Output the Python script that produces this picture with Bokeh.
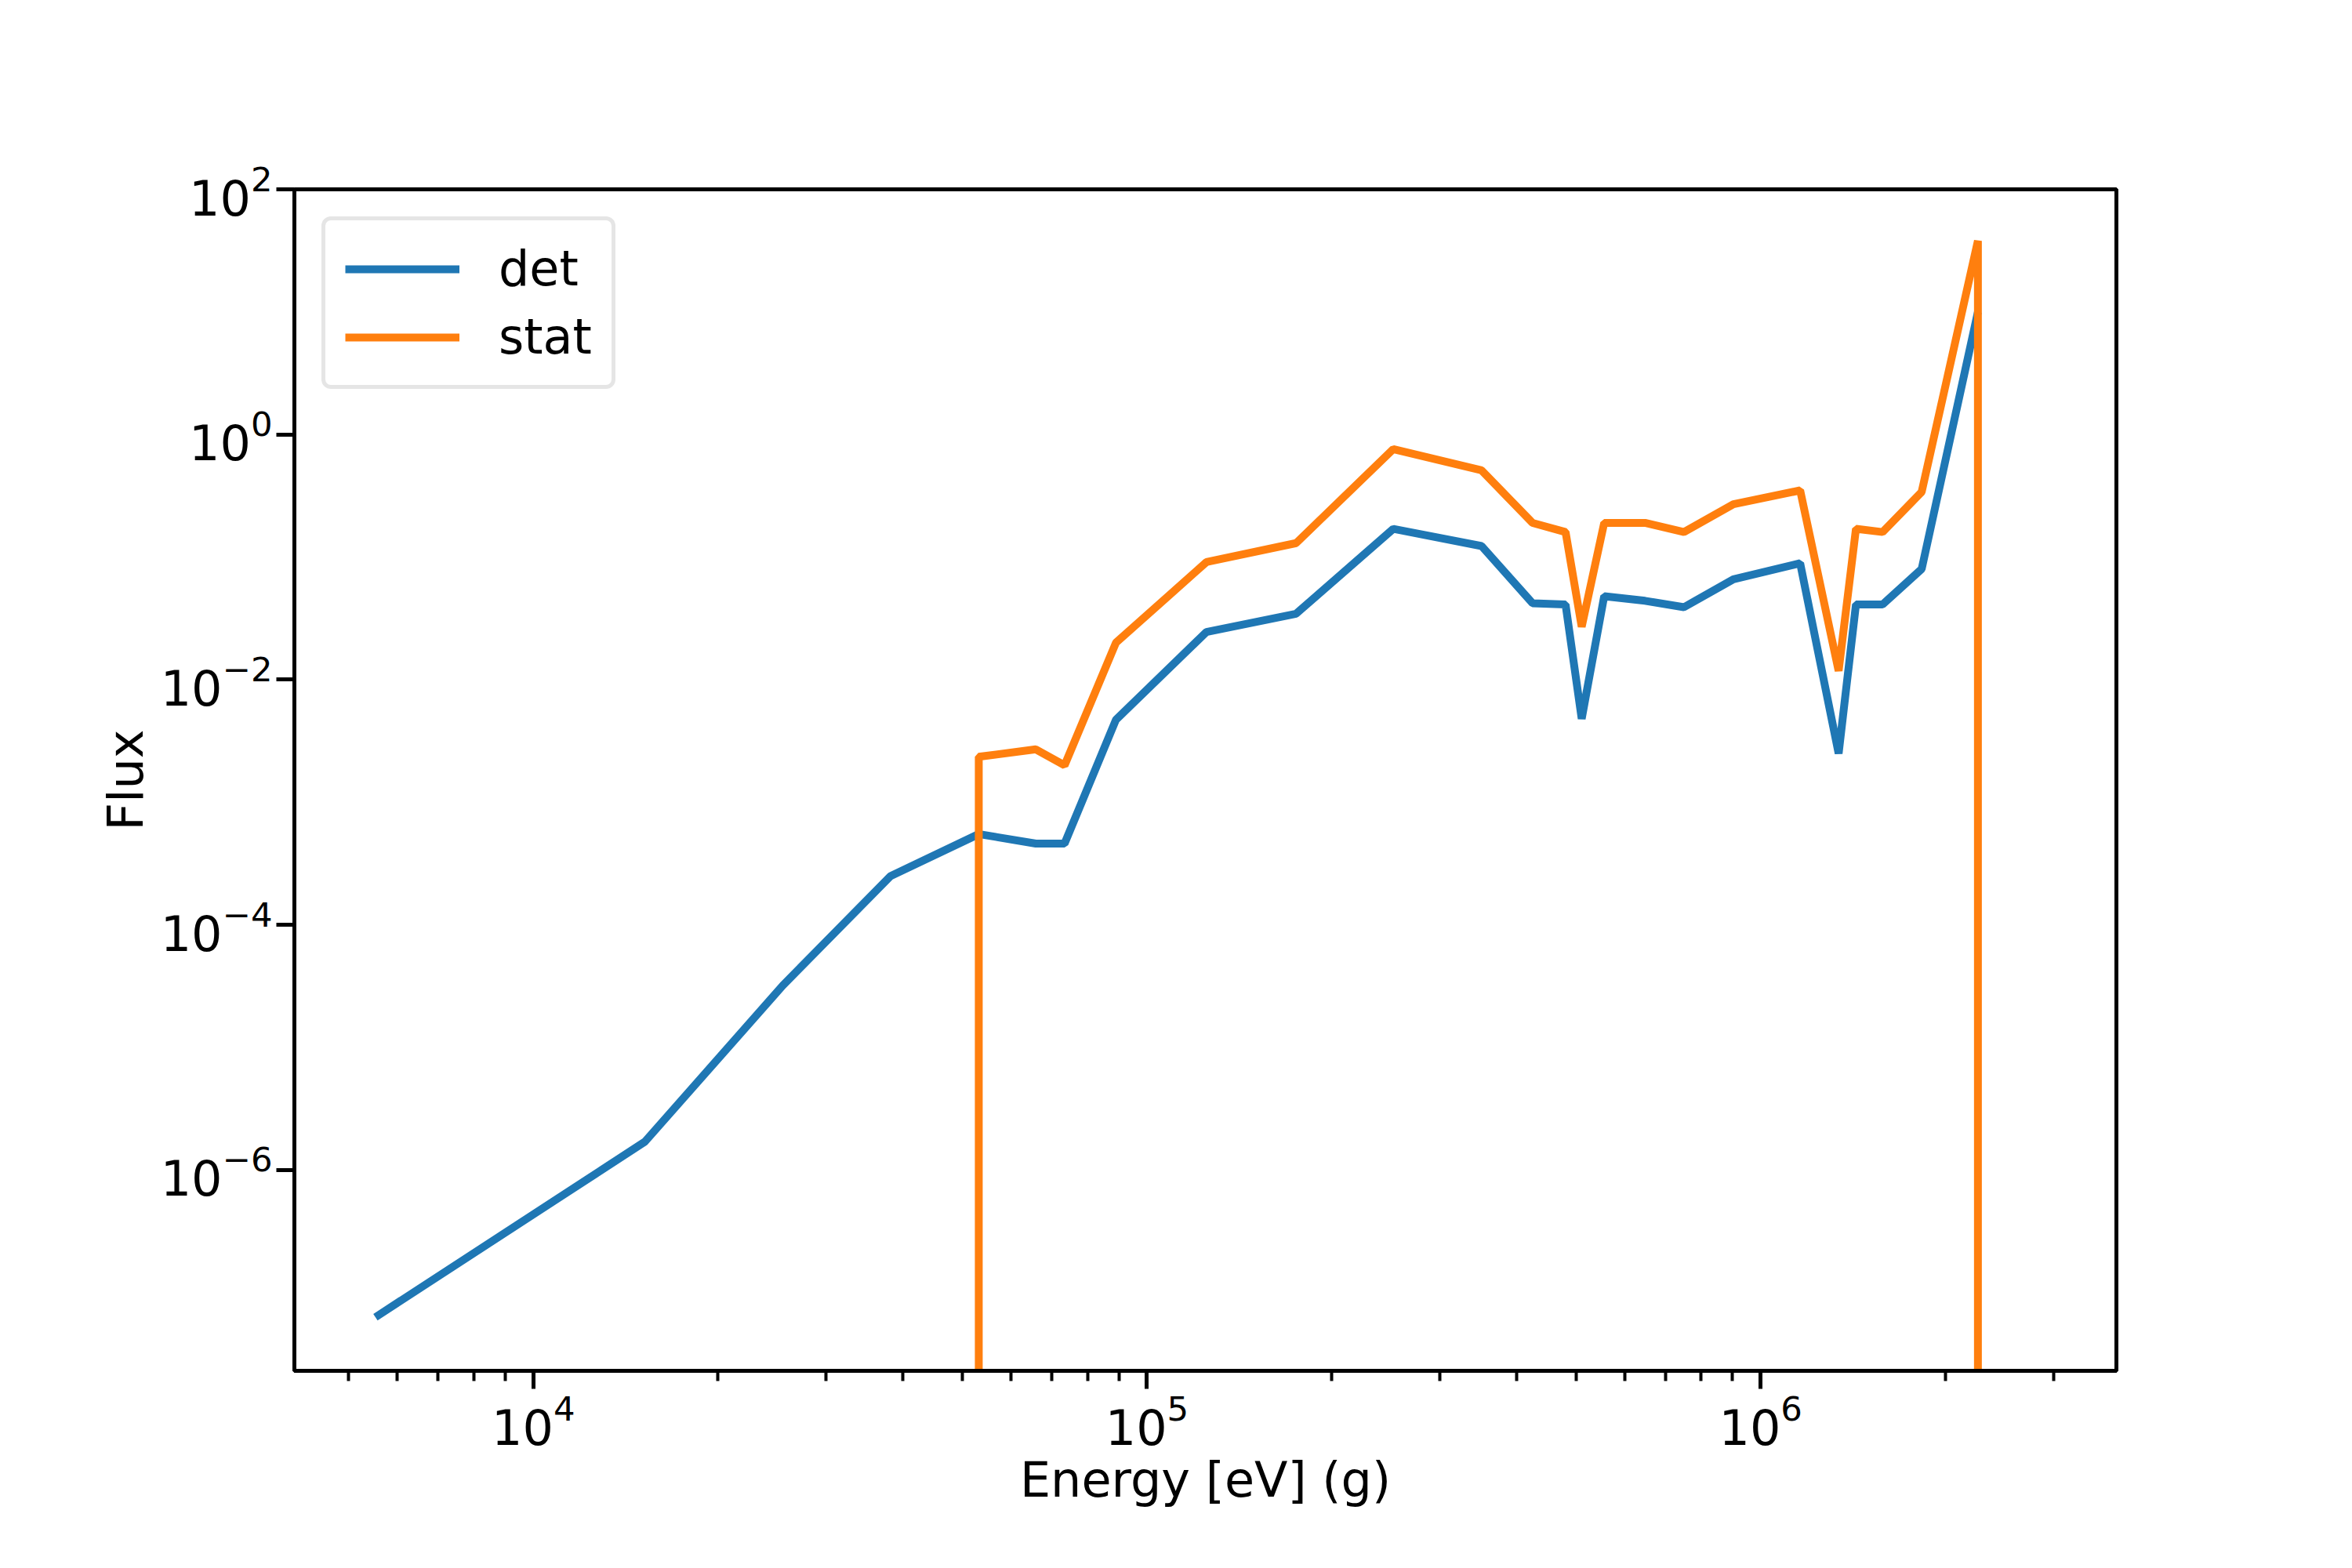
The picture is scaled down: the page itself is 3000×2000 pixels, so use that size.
import numpy as np
from bokeh.plotting import figure
from bokeh.models import FixedTicker, Legend, LegendItem, Range1d
from bokeh.embed import file_html
from bokeh.resources import INLINE

energy = [5530, 15200, 25500, 38200, 53200, 65900, 73400, 89000, 125000, 175000,
          252000, 351000, 425000, 481000, 511000, 556000, 648000, 750000, 903000,
          1.16e6, 1.34e6, 1.43e6, 1.58e6, 1.83e6, 2.26e6]
det = [6.3e-8, 1.7e-6, 3.2e-5, 2.5e-4, 5.5e-4, 4.6e-4, 4.6e-4, 4.7e-3, 0.0245, 0.0345,
       0.17, 0.123, 0.042, 0.041, 0.0048, 0.048, 0.044, 0.039, 0.066,
       0.089, 0.0025, 0.041, 0.041, 0.08, 10.0]
stat = [0, 0, 0, 0, 2.35e-3, 2.7e-3, 2.0e-3, 0.02, 0.091, 0.13,
        0.76, 0.51, 0.19, 0.16, 0.027, 0.19, 0.19, 0.16, 0.27,
        0.35, 0.0118, 0.17, 0.16, 0.34, 38.0, 0]

FS = "62px"
p = figure(x_axis_type="log", y_axis_type="log", output_backend="svg", toolbar_location=None,
           frame_width=2324, frame_height=1507, min_border_left=375, min_border_top=241,
           min_border_right=280, min_border_bottom=230,
           x_range=Range1d(4080, 3.8e6), y_range=Range1d(2.3e-8, 100))
p.grid.visible = False
p.outline_line_color = "black"
p.outline_line_width = 5

# stat has one extra point: drops to zero at the last energy
stat_x = energy + [energy[-1] * 1.0001]
stat_y = [v if v > 0 else 1e-300 for v in stat]
# leading zeros: only the jump up into the first nonzero bin is visible
stat_x_plot = list(stat_x)
stat_x_plot[3] = energy[4] * 0.9999

r1 = p.line(energy, det, line_color="#1f77b4", line_width=10)
r2 = p.line(stat_x_plot, stat_y, line_color="#ff7f0e", line_width=10)

minors = [m * 10 ** d for d in range(3, 7) for m in range(2, 10)]
p.xaxis.ticker = FixedTicker(ticks=[1e4, 1e5, 1e6], minor_ticks=minors)
p.yaxis.ticker = FixedTicker(ticks=[1e-6, 1e-4, 1e-2, 1, 1e2], minor_ticks=[])
for ax in (p.xaxis[0], p.yaxis[0]):
    ax.major_label_text_font_size = FS
    ax.major_label_text_font = "DejaVu Sans"
    ax.axis_label_text_font_size = FS
    ax.axis_label_text_font = "DejaVu Sans"
    ax.axis_label_text_font_style = "normal"
    ax.axis_label_text_color = "black"
    ax.major_tick_out = 23
    ax.major_tick_in = 0
    ax.minor_tick_out = 13
    ax.minor_tick_in = 0
    ax.major_tick_line_width = 5
    ax.minor_tick_line_width = 4
    ax.axis_line_width = 5
    ax.major_label_text_color = "black"
p.xaxis.axis_label = "Energy [eV] (g)"
p.yaxis.axis_label = "Flux"

legend = Legend(items=[LegendItem(label="det", renderers=[r1]),
                       LegendItem(label="stat", renderers=[r2])],
                location="top_left", label_text_font_size=FS, label_text_font="DejaVu Sans",
                label_text_color="black",
                glyph_width=146, glyph_height=56, label_standoff=50, spacing=14,
                padding=25, margin=35, border_line_color="#cccccc", border_line_width=5,
                border_radius=12)
p.add_layout(legend)

open("out.html", "w").write(file_html(p, INLINE))
